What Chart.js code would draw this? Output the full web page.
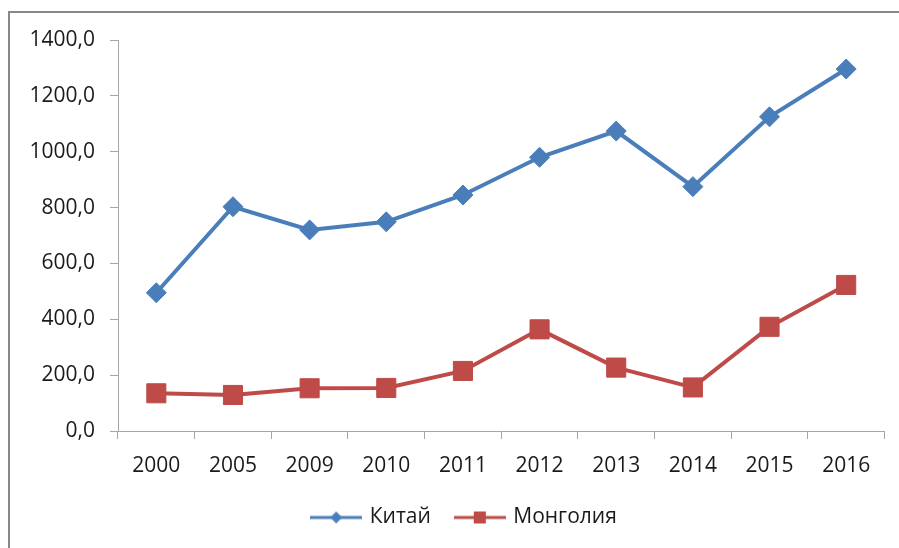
<!DOCTYPE html>
<html>
<head>
<meta charset="utf-8">
<script src="https://cdn.jsdelivr.net/npm/chart.js@4/dist/chart.umd.min.js"></script>
<style>
  html, body { margin: 0; padding: 0; background: #fff; overflow: hidden; }
  #frame { position: absolute; left: 8px; top: 11px; width: 1000px; height: 1000px; border: 2px solid #878787; box-sizing: border-box; }
  #wrap { position: absolute; left: 0; top: 0; width: 899px; height: 548px; }
</style>
</head>
<body>
<div id="frame"></div>
<div id="wrap"><canvas id="c" width="899" height="548"></canvas></div>
<script>
const categories = ['2000', '2005', '2009', '2010', '2011', '2012', '2013', '2014', '2015', '2016'];
const chinaValues = [495, 803, 720, 749, 845, 980, 1074, 875, 1125, 1296];
const mongoliaValues = [135, 129, 153, 154, 215, 364, 227, 156, 373, 523];
const seriesNames = ['Китай', 'Монголия'];
const yTicks = [0, 200, 400, 600, 800, 1000, 1200, 1400];

const BLUE = '#4A7EBB';
const RED = '#BE4B48';
const FONT = 'Open Sans';
const TEXT = '#1a1a1a';

function legendIcon(color, shape) {
  const c = document.createElement('canvas');
  c.width = 52; c.height = 16;
  const g = c.getContext('2d');
  g.strokeStyle = color; g.lineWidth = 3;
  g.beginPath(); g.moveTo(0, 8); g.lineTo(52, 8); g.stroke();
  g.fillStyle = color;
  if (shape === 'diamond') {
    g.beginPath(); g.moveTo(26, 2); g.lineTo(32, 8); g.lineTo(26, 14); g.lineTo(20, 8); g.closePath(); g.fill();
  } else {
    g.fillRect(20, 2, 12, 12);
  }
  return c;
}
const icons = [legendIcon(BLUE, 'diamond'), legendIcon(RED, 'square')];

// let y tick labels extend left of the padded area (no clipping)
const unclipY = {
  id: 'unclipY',
  afterLayout(chart) { chart.scales.y.left = 0; }
};

new Chart(document.getElementById('c'), {
  type: 'line',
  data: {
    labels: categories,
    datasets: [
      {
        label: seriesNames[0], data: chinaValues,
        borderColor: BLUE, backgroundColor: BLUE, borderWidth: 4,
        pointStyle: 'rectRot', pointRadius: 10, pointHoverRadius: 10,
        pointBackgroundColor: BLUE, pointBorderColor: BLUE, pointBorderWidth: 1,
        tension: 0
      },
      {
        label: seriesNames[1], data: mongoliaValues,
        borderColor: RED, backgroundColor: RED, borderWidth: 4,
        pointStyle: 'rect', pointRadius: 13.5, pointHoverRadius: 13.5,
        pointBackgroundColor: RED, pointBorderColor: RED, pointBorderWidth: 1,
        tension: 0
      }
    ]
  },
  plugins: [unclipY],
  options: {
    responsive: false,
    animation: false,
    events: [],
    layout: { padding: { left: 43, right: 12, top: 40, bottom: 10 } },
    plugins: {
      tooltip: { enabled: false },
      legend: {
        position: 'bottom',
        labels: {
          usePointStyle: true,
          pointStyleWidth: 46,
          padding: 26,
          color: TEXT,
          font: { family: FONT, size: 21 },
          generateLabels: (chart) => chart.data.datasets.map((ds, i) => ({
            text: ds.label,
            pointStyle: icons[i],
            fillStyle: ds.borderColor,
            strokeStyle: ds.borderColor,
            lineWidth: 0,
            hidden: false,
            datasetIndex: i,
            fontColor: TEXT
          }))
        }
      }
    },
    scales: {
      x: {
        offset: true,
        grid: { offset: true, drawOnChartArea: false, drawTicks: true, tickLength: 8, color: '#a6a6a6' },
        border: { color: '#a6a6a6', width: 1 },
        ticks: { color: TEXT, font: { family: FONT, size: 21 }, padding: 14, maxRotation: 0 },
        afterFit: (s) => { s.height = 50; }
      },
      y: {
        min: 0, max: 1400,
        afterBuildTicks: (s) => { s.ticks = yTicks.map(v => ({ value: v })); },
        grid: { drawOnChartArea: false, drawTicks: true, tickLength: 8, color: '#a6a6a6' },
        border: { color: '#a6a6a6', width: 1 },
        ticks: {
          color: TEXT, font: { family: FONT, size: 21 }, padding: 15,
          callback: (v) => Number(v).toFixed(1).replace('.', ',')
        },
        afterFit: (s) => { s.width = 75; }
      }
    }
  }
});
</script>
</body>
</html>
